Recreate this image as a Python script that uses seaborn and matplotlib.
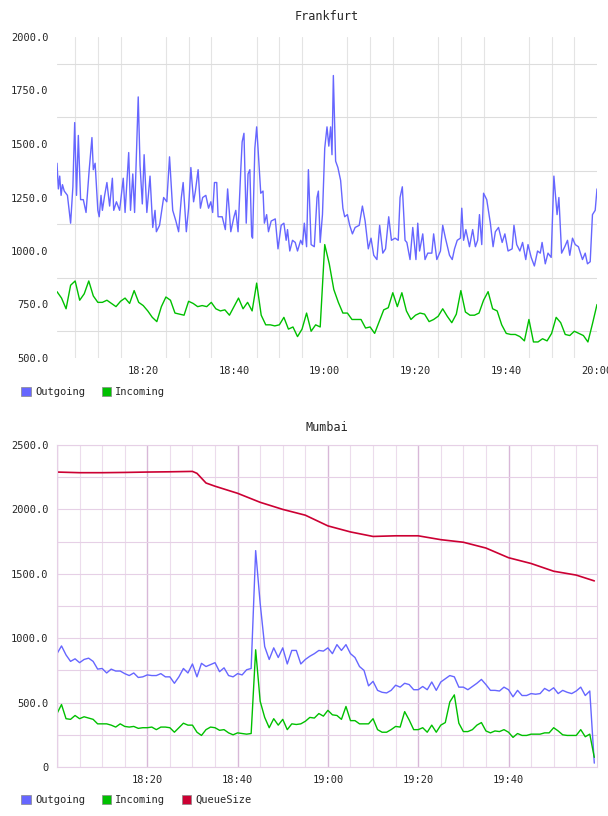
import matplotlib
matplotlib.use("Agg")
import matplotlib.pyplot as plt
import matplotlib.dates as mdates
from matplotlib.patches import Patch
from matplotlib.ticker import FuncFormatter, MultipleLocator
import seaborn as sns
import pandas as pd
import numpy as np

# Frankfurt outgoing: (minute offset from 18:01, value)
fra_out_min = [0, .3, .6, .9, 1.2, 1.6, 2.3, 3.0, 3.5, 3.9, 4.3, 4.7, 5.2, 5.8, 6.4, 7.1, 7.7, 8.0, 8.4, 9.0,
               9.3, 9.7, 10.0, 10.5, 11.0, 11.6, 12.2, 12.5, 13.1, 13.8, 14.6, 15.0, 15.8, 16.2, 16.7, 17.1, 17.9, 18.3, 18.8, 19.2,
               19.8, 20.5, 21.1, 21.6, 21.9, 22.6, 23.5, 24.2, 24.8, 25.5, 26.2, 26.8, 27.4, 27.8, 28.5, 29.0, 29.5, 30.1, 30.5, 31.1,
               31.6, 32.1, 32.8, 33.4, 33.9, 34.3, 34.7, 35.2, 35.5, 36.4, 37.1, 37.6, 38.3, 39.0, 39.4, 39.9, 40.5, 40.8, 41.2, 41.7,
               42.1, 42.5, 42.9, 43.1, 43.6, 44.0, 44.3, 44.9, 45.4, 45.7, 46.2, 46.6, 47.2, 48.1, 48.7, 49.4, 50.0, 50.5, 50.8, 51.3,
               51.9, 52.5, 53.0, 53.7, 54.1, 54.5, 55.0, 55.4, 56.0, 56.7, 57.3, 57.6, 58.0, 58.5, 59.0, 59.5, 59.9, 60.3, 60.6, 60.9,
               61.4, 61.9, 62.5, 63.0, 63.4, 64.0, 64.5, 65.1, 65.7, 66.6, 67.3, 67.9, 68.6, 69.2, 69.8, 70.5, 71.1, 71.8, 72.4, 73.1,
               73.7, 74.5, 75.2, 75.6, 76.1, 76.7, 77.1, 77.8, 78.4, 79.1, 79.5, 79.9, 80.6, 81.1, 81.7, 82.6, 83.0, 83.7, 84.5, 85.0,
               85.6, 86.5, 87.1, 87.6, 88.2, 88.9, 89.2, 89.6, 90.1, 90.9, 91.6, 92.2, 92.7, 93.1, 93.6, 94.0, 94.7, 95.5, 96.1, 96.6,
               97.3, 98.1, 98.7, 99.4, 100.3, 100.7, 101.3, 102.0, 102.6, 103.3, 103.8, 104.5, 105.2, 105.9, 106.5, 106.9, 107.6, 108.2, 108.9, 109.5,
               110.2, 110.6, 111.2, 111.9, 112.5, 113.0, 113.6, 114.2, 114.9, 115.8, 116.4, 116.9, 117.5, 118.0, 118.6, 119.0]
fra_out = [1410, 1290, 1350, 1260, 1310, 1280, 1260, 1130, 1300, 1600, 1260, 1540, 1240, 1240, 1180, 1380, 1530, 1380, 1410, 1190,
           1160, 1260, 1190, 1260, 1320, 1210, 1340, 1190, 1230, 1190, 1340, 1180, 1460, 1190, 1360, 1180, 1720, 1400, 1220, 1450,
           1180, 1350, 1110, 1190, 1090, 1120, 1250, 1230, 1440, 1190, 1140, 1090, 1250, 1320, 1090, 1200, 1390, 1230, 1280, 1380,
           1200, 1250, 1260, 1200, 1230, 1180, 1320, 1320, 1160, 1160, 1100, 1290, 1090, 1160, 1190, 1090, 1380, 1510, 1550, 1130,
           1360, 1380, 1070, 1060, 1480, 1580, 1480, 1270, 1280, 1130, 1170, 1090, 1140, 1150, 1010, 1120, 1130, 1050, 1100, 1000,
           1050, 1040, 1000, 1050, 1030, 1130, 1020, 1380, 1030, 1020, 1250, 1280, 1040, 1170, 1480, 1580, 1490, 1580, 1450, 1820,
           1420, 1390, 1330, 1200, 1160, 1170, 1120, 1080, 1110, 1120, 1210, 1140, 1010, 1060, 980, 960, 1120, 990, 1010, 1160,
           1050, 1060, 1050, 1250, 1300, 1050, 1040, 960, 1110, 960, 1130, 1000, 1080, 960, 990, 990, 1080, 960, 1000, 1120,
           1060, 980, 960, 1010, 1050, 1060, 1200, 1050, 1100, 1020, 1100, 1020, 1050, 1170, 1030, 1270, 1240, 1130, 1020, 1090,
           1110, 1040, 1080, 1000, 1010, 1120, 1030, 1000, 1040, 960, 1030, 970, 930, 1000, 990, 1040, 940, 990, 970, 1350,
           1170, 1250, 990, 1020, 1050, 980, 1060, 1030, 1020, 960, 990, 940, 950, 1170, 1190, 1290]
# Frankfurt incoming, one value per minute from 18:01
fra_in = [810, 780, 730, 840, 860, 770, 800, 860, 790, 760, 760, 770, 755, 740, 765, 780, 755, 815, 760, 745,
          720, 690, 670, 740, 785, 770, 710, 705, 700, 765, 755, 740, 745, 740, 760, 730, 720, 725, 700, 740,
          780, 730, 760, 720, 850, 700, 655, 655, 650, 655, 690, 635, 645, 600, 635, 710, 625, 655, 645, 1030,
          940, 820, 760, 710, 710, 680, 680, 680, 640, 645, 615, 670, 725, 735, 805, 740, 805, 720, 680, 700,
          710, 705, 670, 680, 695, 730, 695, 665, 705, 815, 715, 700, 700, 710, 770, 810, 730, 720, 655, 615,
          610, 610, 600, 580, 680, 575, 575, 590, 580, 615, 690, 665, 610, 605, 625, 615, 605, 575, 660, 750]

# Mumbai, one value per minute from 18:00
mum_out = [880, 940, 870, 820, 840, 810, 835, 845, 820, 760, 765, 730, 760, 745, 745, 725, 710, 730, 695, 700,
           715, 710, 710, 725, 700, 700, 650, 700, 765, 730, 800, 700, 805, 780, 795, 810, 740, 770, 710, 700,
           725, 715, 755, 765, 1680, 1270, 935, 835, 925, 850, 925, 800, 905, 905, 800, 835, 860, 880, 905, 900,
           925, 880, 950, 905, 950, 880, 850, 780, 750, 630, 665, 595, 580, 575, 595, 635, 620, 650, 640, 600,
           600, 625, 600, 660, 595, 660, 685, 710, 700, 620, 620, 600, 625, 650, 680, 640, 595, 595, 590, 620,
           600, 545, 595, 555, 555, 570, 565, 570, 610, 590, 615, 570, 595, 580, 570, 590, 620, 555, 590, 30]
mum_in = [415, 485, 375, 370, 400, 375, 390, 380, 370, 335, 335, 335, 325, 310, 335, 315, 310, 315, 300, 305,
          305, 310, 290, 310, 310, 305, 270, 305, 340, 325, 325, 270, 245, 290, 310, 305, 285, 290, 265, 250,
          265, 260, 255, 260, 910, 510, 385, 305, 375, 325, 370, 290, 335, 330, 335, 355, 385, 380, 415, 395,
          440, 405, 400, 370, 470, 360, 360, 335, 335, 335, 375, 290, 270, 270, 290, 315, 310, 430, 365, 290,
          290, 305, 270, 325, 270, 325, 345, 505, 560, 340, 275, 275, 290, 325, 345, 280, 265, 280, 275, 290,
          270, 230, 260, 245, 245, 255, 255, 255, 265, 265, 305, 280, 250, 245, 245, 245, 290, 235, 255, 75]
mum_queue_min = [0, 5, 10, 15, 20, 25, 30, 31, 33, 35, 40, 45, 50, 55, 60, 65, 70, 75, 80, 85, 90, 95, 100, 105, 110, 115, 119]
mum_queue = [2290, 2285, 2285, 2287, 2290, 2292, 2295, 2280, 2205, 2180, 2125, 2055, 2000, 1955, 1872, 1825, 1790,
             1795, 1795, 1765, 1745, 1700, 1625, 1580, 1520, 1490, 1445]

C_OUT, C_IN, C_Q = "#6666ff", "#00c000", "#cc0033"
MONO = ["DejaVu Sans Mono"]

sns.set_style("white")
plt.rcParams["font.family"] = MONO
plt.rcParams["font.size"] = 7.5

fig = plt.figure(figsize=(6.08, 8.16), dpi=100)
ax1 = fig.add_axes([57 / 608, 1 - 358 / 816, 540 / 608, 321 / 816])
ax2 = fig.add_axes([57 / 608, 1 - 767 / 816, 540 / 608, 322 / 816])

t0 = pd.Timestamp("2024-01-01 18:00")
fra_start = t0 + pd.Timedelta(minutes=1)

def fmt(v, _):
    return "0" if v == 0 else f"{v:.1f}"

# Frankfurt
sns.lineplot(x=fra_start + pd.to_timedelta(fra_out_min, unit="min"), y=fra_out, color=C_OUT, lw=1, ax=ax1)
sns.lineplot(x=pd.date_range(fra_start, periods=len(fra_in), freq="1min"), y=fra_in, color=C_IN, lw=1, ax=ax1)
ax1.set_xlim(fra_start, t0 + pd.Timedelta(minutes=120))
ax1.set_ylim(500, 2000)
ax1.yaxis.set_major_locator(MultipleLocator(250))
ax1.yaxis.set_minor_locator(MultipleLocator(250))
ax1.set_yticks(np.arange(625, 2000, 250), minor=True)
ax1.grid(False)
ax1.grid(True, which="minor", axis="y", color="#dddddd", lw=0.8)
ax1.xaxis.set_minor_locator(mdates.MinuteLocator(byminute=range(0, 60, 5)))
ax1.grid(True, which="minor", axis="x", color="#e4e4e4", lw=0.8)
for s in ax1.spines.values():
    s.set_visible(False)
ax1.set_title("Frankfurt", fontsize=8.5, pad=12)

# Mumbai
mum_t = pd.date_range(t0, periods=len(mum_out), freq="1min")
sns.lineplot(x=mum_t, y=mum_out, color=C_OUT, lw=1, ax=ax2)
sns.lineplot(x=pd.date_range(t0, periods=len(mum_in), freq="1min"), y=mum_in, color=C_IN, lw=1, ax=ax2)
sns.lineplot(x=t0 + pd.to_timedelta(mum_queue_min, unit="min"), y=mum_queue, color=C_Q, lw=1.2, ax=ax2)
ax2.set_xlim(t0, t0 + pd.Timedelta(minutes=119.6))
ax2.set_ylim(0, 2500)
ax2.yaxis.set_major_locator(MultipleLocator(500))
ax2.set_yticks(np.arange(250, 2500, 500), minor=True)
ax2.xaxis.set_minor_locator(mdates.MinuteLocator(byminute=range(0, 60, 5)))
ax2.grid(False)
ax2.grid(True, which="both", axis="y", color="#e6d0e6", lw=0.8)
ax2.grid(True, which="minor", axis="x", color="#ecdcec", lw=0.8)
ax2.grid(True, which="major", axis="x", color="#d8b8d8", lw=1)
for s in ax2.spines.values():
    s.set_color("#e6d0e6")
ax2.set_title("Mumbai", fontsize=8.5, pad=10)

for ax in (ax1, ax2):
    ax.set_xlabel("")
    ax.set_ylabel("")
    ax.xaxis.set_major_locator(mdates.MinuteLocator(byminute=[0, 20, 40]))
    ax.xaxis.set_major_formatter(mdates.DateFormatter("%H:%M"))
    ax.yaxis.set_major_formatter(FuncFormatter(fmt))
    ax.tick_params(which="both", length=0, labelsize=7.5, pad=6)
    ax.set_axisbelow(True)

xt = ax1.get_xticks()
labels1 = [l for l in ax1.get_xticklabels()]
for l in labels1:
    if l.get_text() == "18:00":
        l.set_visible(False)
for l in ax2.get_xticklabels():
    if l.get_text() == "18:00":
        l.set_visible(False)

def legend(names, colors, y):
    h = [Patch(facecolor=c, edgecolor="#888888", lw=0.5) for c in colors]
    fig.legend(h, names, loc="center left", bbox_to_anchor=(12 / 608, 1 - y / 816), ncol=len(names),
               frameon=False, handlelength=0.9, handleheight=0.9, handletextpad=0.4, columnspacing=1.6,
               fontsize=7.5)

legend(["Outgoing", "Incoming"], [C_OUT, C_IN], 392)
legend(["Outgoing", "Incoming", "QueueSize"], [C_OUT, C_IN, C_Q], 800)

fig.savefig("out.png", dpi=100)
